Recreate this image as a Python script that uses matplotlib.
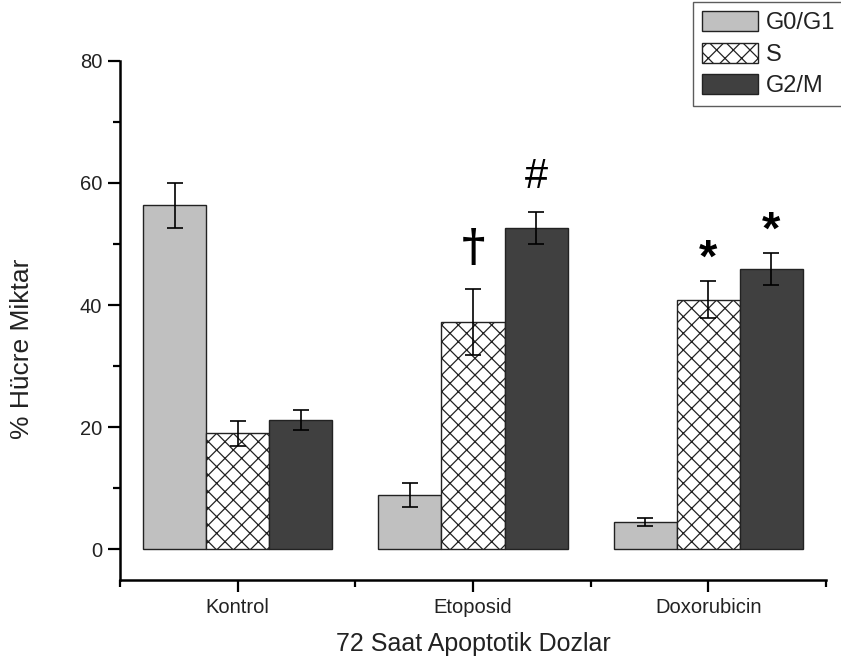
import numpy as np
import matplotlib
matplotlib.use("Agg")
import matplotlib.pyplot as plt
from matplotlib.patches import Patch
from matplotlib.ticker import MultipleLocator

# --- data ---
groups = ["Kontrol", "Etoposid", "Doxorubicin"]
phases = ["G0/G1", "S", "G2/M"]

g0g1 = [56.3, 8.9, 4.5]
g0g1_err = [3.7, 2.0, 0.6]
s_phase = [19.0, 37.3, 40.9]
s_err = [2.0, 5.4, 3.0]
g2m = [21.2, 52.6, 45.9]
g2m_err = [1.6, 2.6, 2.65]

# significance marks: (group index, phase index, symbol, y position)
marks = [
    (1, 1, "\u2020", 49.3),
    (1, 2, "#", 61.0),
    (2, 1, "*", 47.4),
    (2, 2, "*", 52.0),
]

# --- style ---
plt.rcParams["font.family"] = ["Liberation Sans", "DejaVu Sans"]
plt.rcParams["hatch.linewidth"] = 0.9
plt.rcParams["hatch.color"] = "black"

TEXT = "#222222"
colors = ["#c0c0c0", "white", "#404040"]
hatches = [None, "xx", None]
BAR_W = 0.268

fig = plt.figure(figsize=(8.41, 6.62), dpi=100)
ax = fig.add_axes([120 / 841, 1 - 580 / 662, 706 / 841, (580 - 60.7) / 662])

x = np.arange(1, len(groups) + 1)
values = [g0g1, s_phase, g2m]
errors = [g0g1_err, s_err, g2m_err]
offsets = [-BAR_W, 0, BAR_W]

for k in range(3):
    ax.bar(x + offsets[k], values[k], width=BAR_W, color=colors[k],
           hatch=hatches[k], edgecolor="#222222", linewidth=1.0, zorder=2)
    ax.errorbar(x + offsets[k], values[k], yerr=errors[k], fmt="none",
                ecolor="black", elinewidth=1.2, capsize=5.5, capthick=1.2,
                zorder=3)

for gi, pi, sym, yv in marks:
    if sym == "\u2020":
        ax.text(x[gi] + offsets[pi], yv, sym, ha="center", va="center",
                fontsize=32, family="DejaVu Serif", fontweight="bold",
                color="black")
    elif sym == "#":
        ax.text(x[gi] + offsets[pi], yv, sym, ha="center", va="center",
                fontsize=30, color="black")
    else:
        ax.text(x[gi] + offsets[pi], yv, sym, ha="center", va="center",
                fontsize=34, fontweight="bold", color="black")

ax.set_xlim(0.5, 3.5)
ax.set_ylim(-5, 80)

ax.spines["top"].set_visible(False)
ax.spines["right"].set_visible(False)
ax.spines["left"].set_linewidth(1.8)
ax.spines["bottom"].set_linewidth(1.8)

ax.set_yticks([0, 20, 40, 60, 80])
ax.yaxis.set_minor_locator(MultipleLocator(10))
ax.set_xticks(x)
ax.set_xticklabels(groups)
ax.set_xticks([0.5, 1.5, 2.5, 3.5], minor=True)

ax.tick_params(axis="both", which="major", direction="out", length=8.4,
               width=1.6, labelsize=14.5, labelcolor=TEXT, pad=4.5)
ax.tick_params(axis="both", which="minor", direction="out", length=4.8,
               width=1.6)

ax.set_xlabel("72 Saat Apoptotik Dozlar", fontsize=18, color=TEXT)
ax.set_ylabel("% Hücre Miktar", fontsize=19, color=TEXT)
ax.xaxis.set_label_coords(0.5, -0.10)
ax.yaxis.set_label_coords(-0.122, 0.445)

handles = [Patch(facecolor=colors[k], edgecolor="#222222", hatch=hatches[k],
                 linewidth=1.0) for k in range(3)]
leg = fig.legend(handles, phases, loc="upper left",
                 bbox_to_anchor=(693 / 841, 1 - 2 / 662), fontsize=17,
                 frameon=True, fancybox=False, edgecolor="#333333",
                 handlelength=2.37, handleheight=0.93, handletextpad=0.34,
                 labelspacing=0.36, borderpad=0.38, borderaxespad=0)
leg.get_frame().set_linewidth(1.0)
for t in leg.get_texts():
    t.set_color(TEXT)

fig.savefig("out.png", dpi=100)
